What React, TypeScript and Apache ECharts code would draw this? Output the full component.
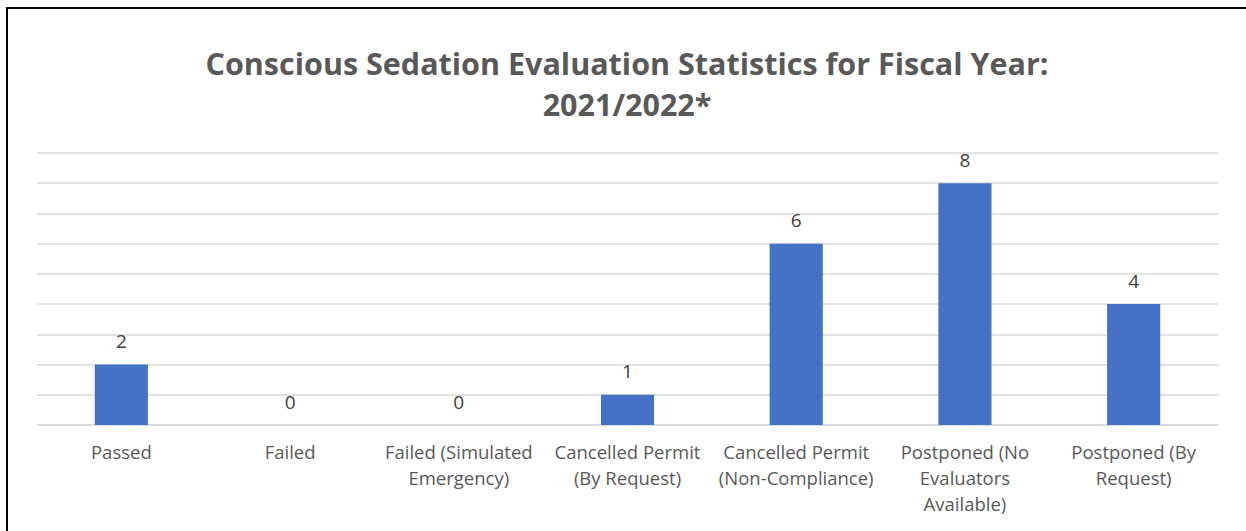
import React, { useEffect, useRef } from "react";
import * as echarts from "echarts";

const titleText = "Conscious Sedation Evaluation Statistics for Fiscal Year:\n2021/2022*";
const categories = [
  "Passed",
  "Failed",
  "Failed (Simulated\nEmergency)",
  "Cancelled Permit\n(By Request)",
  "Cancelled Permit\n(Non-Compliance)",
  "Postponed (No\nEvaluators\nAvailable)",
  "Postponed (By\nRequest)",
];
const values = [2, 0, 0, 1, 6, 8, 4];
const yMin = 0;
const yMax = 9;
const yInterval = 1;

const FONT = "'Open Sans', Lato, sans-serif";

export default function App() {
  const ref = useRef<HTMLDivElement>(null);
  useEffect(() => {
    if (!ref.current) return;
    const chart = echarts.init(ref.current, undefined, { renderer: "svg" });
    chart.setOption({
      animation: false,
      backgroundColor: "#ffffff",
      title: {
        text: titleText,
        left: 622,
        top: 37,
        textAlign: "center",
        textStyle: {
          fontFamily: FONT,
          fontWeight: "bold",
          fontSize: 30.5,
          lineHeight: 41,
          color: "#595959",
          align: "center",
        },
      },
      graphic: [
        {
          type: "rect",
          shape: { x: 7, y: 8, width: 1260, height: 560 },
          style: { fill: "none", stroke: "#000000", lineWidth: 2 },
          silent: true,
        },
      ],
      grid: { left: 37, right: 28, top: 153, bottom: 106 },
      xAxis: {
        type: "category",
        data: categories,
        axisLine: { show: true, lineStyle: { color: "#d9d9d9", width: 1.5 } },
        axisTick: { show: false },
        axisLabel: {
          interval: 0,
          margin: 13,
          fontFamily: FONT,
          fontSize: 18.5,
          lineHeight: 26,
          color: "#595959",
          align: "center",
        },
      },
      yAxis: {
        type: "value",
        min: yMin,
        max: yMax,
        interval: yInterval,
        axisLabel: { show: false },
        axisLine: { show: false },
        axisTick: { show: false },
        splitLine: { lineStyle: { color: "#d9d9d9", width: 1.5 } },
      },
      series: [
        {
          type: "bar",
          data: values,
          barWidth: "31.5%",
          itemStyle: { color: "#4472c4" },
          label: {
            show: true,
            position: "top",
            distance: 14,
            fontFamily: FONT,
            fontSize: 19,
            color: "#404040",
          },
        },
      ],
    });
    return () => chart.dispose();
  }, []);
  return (
    <div
      ref={ref}
      style={{ position: "fixed", left: 0, top: 0, width: 1246, height: 531 }}
    />
  );
}
